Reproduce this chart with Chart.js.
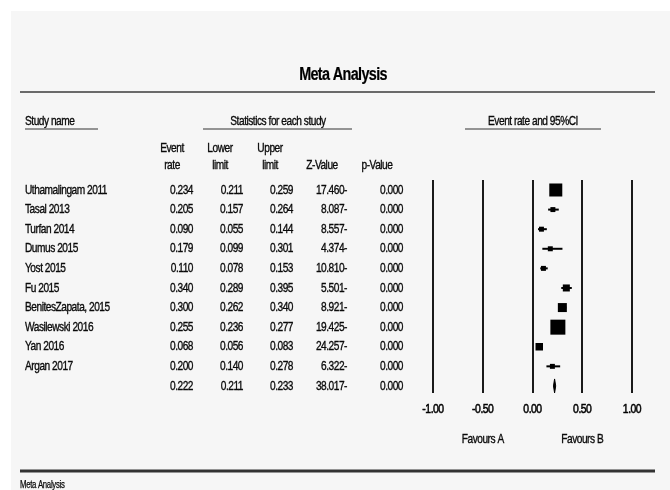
<!DOCTYPE html>
<html>
<head>
<meta charset="utf-8">
<script src="https://cdn.jsdelivr.net/npm/chart.js@4/dist/chart.umd.min.js"></script>
<style>
  html, body { margin: 0; padding: 0; background: #ffffff; }
  canvas { display: block; }
</style>
</head>
<body>
<canvas id="forest" width="670" height="490"></canvas>
<script>
// ---- Study data ----
const studyNames = [
  'Uthamalingam 2011', 'Tasal 2013', 'Turfan 2014', 'Dumus 2015', 'Yost 2015',
  'Fu 2015', 'BenitesZapata, 2015', 'Wasilewski 2016', 'Yan 2016', 'Argan 2017'
];
const eventRate  = [0.234, 0.205, 0.090, 0.179, 0.110, 0.340, 0.300, 0.255, 0.068, 0.200];
const lowerLimit = [0.211, 0.157, 0.055, 0.099, 0.078, 0.289, 0.262, 0.236, 0.056, 0.140];
const upperLimit = [0.259, 0.264, 0.144, 0.301, 0.153, 0.395, 0.340, 0.277, 0.083, 0.278];
const zValue     = [-17.460, -8.087, -8.557, -4.374, -10.810, -5.501, -8.921, -19.425, -24.257, -6.322];
const pValue     = [0.000, 0.000, 0.000, 0.000, 0.000, 0.000, 0.000, 0.000, 0.000, 0.000];
// relative weight of each study (%), shown as the area of its square
const studyWeight = [24.0, 3.5, 3.5, 3.5, 3.5, 7.0, 11.5, 31.9, 8.0, 3.5];

// pooled estimate
const summaryRate  = 0.222;
const summaryLower = 0.211;
const summaryUpper = 0.233;
const summaryZ     = -38.017;
const summaryP     = 0.000;

const axisTickValues = [-1, -0.5, 0, 0.5, 1];
const favourLabels = ['Favours A', 'Favours B'];
const favourAt = [-0.5, 0.5];

const titleText = 'Meta Analysis';
const footerText = 'Meta Analysis';

// ---- drawing helpers ----
const FONT = '"Liberation Sans", Arial, sans-serif';
const INK = '#0a0a0a';

// condensed text: horizontal squeeze plus tight tracking, lightly stroked
function drawText(ctx, s, x, y, o) {
  o = o || {};
  const size = o.size || 13, bold = !!o.bold, align = o.align || 'left';
  const sx = o.sx || 0.78;
  ctx.save();
  ctx.font = (bold ? 'bold ' : '') + size + 'px ' + FONT;
  if ('letterSpacing' in ctx) ctx.letterSpacing = (o.ls !== undefined ? o.ls : -0.6) + 'px';
  ctx.fillStyle = o.color || INK;
  ctx.strokeStyle = o.color || INK;
  ctx.lineWidth = o.stroke !== undefined ? o.stroke : 0.35;
  ctx.textAlign = align;
  ctx.textBaseline = 'middle';
  ctx.translate(x, y);
  ctx.scale(sx, 1);
  ctx.fillText(s, 0, 0);
  if (ctx.lineWidth > 0) ctx.strokeText(s, 0, 0);
  ctx.restore();
}

function hLine(ctx, x1, x2, y, w, color) {
  ctx.save();
  ctx.strokeStyle = color;
  ctx.lineWidth = w;
  ctx.beginPath();
  ctx.moveTo(x1, y);
  ctx.lineTo(x2, y);
  ctx.stroke();
  ctx.restore();
}

const fmt3 = v => v.toFixed(3);
const fmtZ = v => Math.abs(v).toFixed(3) + (v < 0 ? '-' : '');

// table column right edges
const colRight = { rate: 193, lower: 243, upper: 293, z: 347, p: 403 };

const forestPlugin = {
  id: 'forestLayout',
  beforeDraw(chart) {
    const ctx = chart.ctx;
    const W = chart.width, H = chart.height;
    ctx.save();
    ctx.fillStyle = '#ffffff';
    ctx.fillRect(0, 0, W, H);
    ctx.fillStyle = '#f6f6f6';
    ctx.fillRect(11, 11, W - 11, H - 11);
    ctx.restore();

    // title and rules
    drawText(ctx, titleText, 343, 75, { size: 18, bold: true, align: 'center', sx: 0.8, ls: -0.8, stroke: 0.2, color: '#000' });
    hLine(ctx, 20, 655, 92, 2, '#6a6a6a');

    // group headers
    drawText(ctx, 'Study name', 25, 121, {});
    hLine(ctx, 25, 98, 129, 1.2, '#333');
    drawText(ctx, 'Statistics for each study', 278, 121, { align: 'center' });
    hLine(ctx, 203, 352, 129, 1.2, '#333');
    drawText(ctx, 'Event rate and 95%CI', 533, 121, { align: 'center' });
    hLine(ctx, 465, 601, 129, 1.2, '#333');

    // column headers
    drawText(ctx, 'Event', 172, 148, { align: 'center' });
    drawText(ctx, 'rate', 172, 165, { align: 'center' });
    drawText(ctx, 'Lower', 220, 148, { align: 'center' });
    drawText(ctx, 'limit', 220, 165, { align: 'center' });
    drawText(ctx, 'Upper', 270, 148, { align: 'center' });
    drawText(ctx, 'limit', 270, 165, { align: 'center' });
    drawText(ctx, 'Z-Value', 322, 165, { align: 'center' });
    drawText(ctx, 'p-Value', 377, 165, { align: 'center' });

    // study rows, positioned on the chart's own y scale
    const ys = chart.scales.y;
    studyNames.forEach((name, i) => {
      const y = ys.getPixelForValue(i);
      drawText(ctx, name, 25, y);
      drawText(ctx, fmt3(eventRate[i]), colRight.rate, y, { align: 'right' });
      drawText(ctx, fmt3(lowerLimit[i]), colRight.lower, y, { align: 'right' });
      drawText(ctx, fmt3(upperLimit[i]), colRight.upper, y, { align: 'right' });
      drawText(ctx, fmtZ(zValue[i]), colRight.z, y, { align: 'right' });
      drawText(ctx, fmt3(pValue[i]), colRight.p, y, { align: 'right' });
    });
    const ySum = ys.getPixelForValue(studyNames.length);
    drawText(ctx, fmt3(summaryRate), colRight.rate, ySum, { align: 'right' });
    drawText(ctx, fmt3(summaryLower), colRight.lower, ySum, { align: 'right' });
    drawText(ctx, fmt3(summaryUpper), colRight.upper, ySum, { align: 'right' });
    drawText(ctx, fmtZ(summaryZ), colRight.z, ySum, { align: 'right' });
    drawText(ctx, fmt3(summaryP), colRight.p, ySum, { align: 'right' });

    // footer
    hLine(ctx, 20, 655, 471, 3, '#333');
    drawText(ctx, footerText, 20, 485, { size: 10, sx: 0.78, ls: -0.4, stroke: 0.25 });
  },
  beforeDatasetsDraw(chart) {
    // confidence-interval whiskers
    const ctx = chart.ctx, xs = chart.scales.x, ys = chart.scales.y;
    ctx.save();
    ctx.strokeStyle = '#000';
    ctx.lineWidth = 2;
    studyNames.forEach((_, i) => {
      const y = ys.getPixelForValue(i);
      ctx.beginPath();
      ctx.moveTo(xs.getPixelForValue(lowerLimit[i]), y);
      ctx.lineTo(xs.getPixelForValue(upperLimit[i]), y);
      ctx.stroke();
    });
    ctx.restore();
  },
  afterDatasetsDraw(chart) {
    // pooled-estimate diamond
    const ctx = chart.ctx, xs = chart.scales.x, ys = chart.scales.y;
    const y = ys.getPixelForValue(studyNames.length);
    const xl = xs.getPixelForValue(summaryLower);
    const xm = xs.getPixelForValue(summaryRate);
    const xr = xs.getPixelForValue(summaryUpper);
    ctx.save();
    ctx.fillStyle = '#000';
    ctx.strokeStyle = '#000';
    ctx.lineWidth = 1;
    ctx.beginPath();
    ctx.moveTo(xl, y);
    ctx.lineTo(xm, y - 7);
    ctx.lineTo(xr, y);
    ctx.lineTo(xm, y + 7);
    ctx.closePath();
    ctx.fill();
    ctx.stroke();
    ctx.restore();
  },
  afterDraw(chart) {
    const ctx = chart.ctx, xs = chart.scales.x;
    xs.ticks.forEach(t => {
      drawText(ctx, t.value.toFixed(2), xs.getPixelForValue(t.value), 409, { align: 'center', sx: 0.8, stroke: 0.55, color: '#000' });
    });
    favourLabels.forEach((lab, i) => {
      drawText(ctx, lab, xs.getPixelForValue(favourAt[i]), 439, { align: 'center' });
    });
  }
};

const squareSide = w => Math.sqrt(w) * 2.655;

new Chart(document.getElementById('forest'), {
  type: 'scatter',
  data: {
    datasets: [{
      data: eventRate.map((r, i) => ({ x: r, y: i })),
      pointStyle: 'rect',
      pointRadius: studyWeight.map(w => squareSide(w) / Math.SQRT2),
      pointHoverRadius: studyWeight.map(w => squareSide(w) / Math.SQRT2),
      backgroundColor: '#000',
      borderColor: '#000',
      borderWidth: 0
    }]
  },
  options: {
    responsive: false,
    animation: false,
    events: [],
    layout: { padding: { left: 433, right: 38, top: 180, bottom: 97 } },
    plugins: { legend: { display: false }, tooltip: { enabled: false } },
    scales: {
      x: {
        type: 'linear',
        min: axisTickValues[0],
        max: axisTickValues[axisTickValues.length - 1],
        afterBuildTicks: s => { s.ticks = axisTickValues.map(v => ({ value: v })); },
        ticks: { display: false },
        grid: { color: '#1a1a1a', lineWidth: 2, drawTicks: false },
        border: { display: false }
      },
      y: {
        type: 'linear',
        reverse: true,
        min: -0.51,
        max: 10.36,
        display: false
      }
    }
  },
  plugins: [forestPlugin]
});
</script>
</body>
</html>
